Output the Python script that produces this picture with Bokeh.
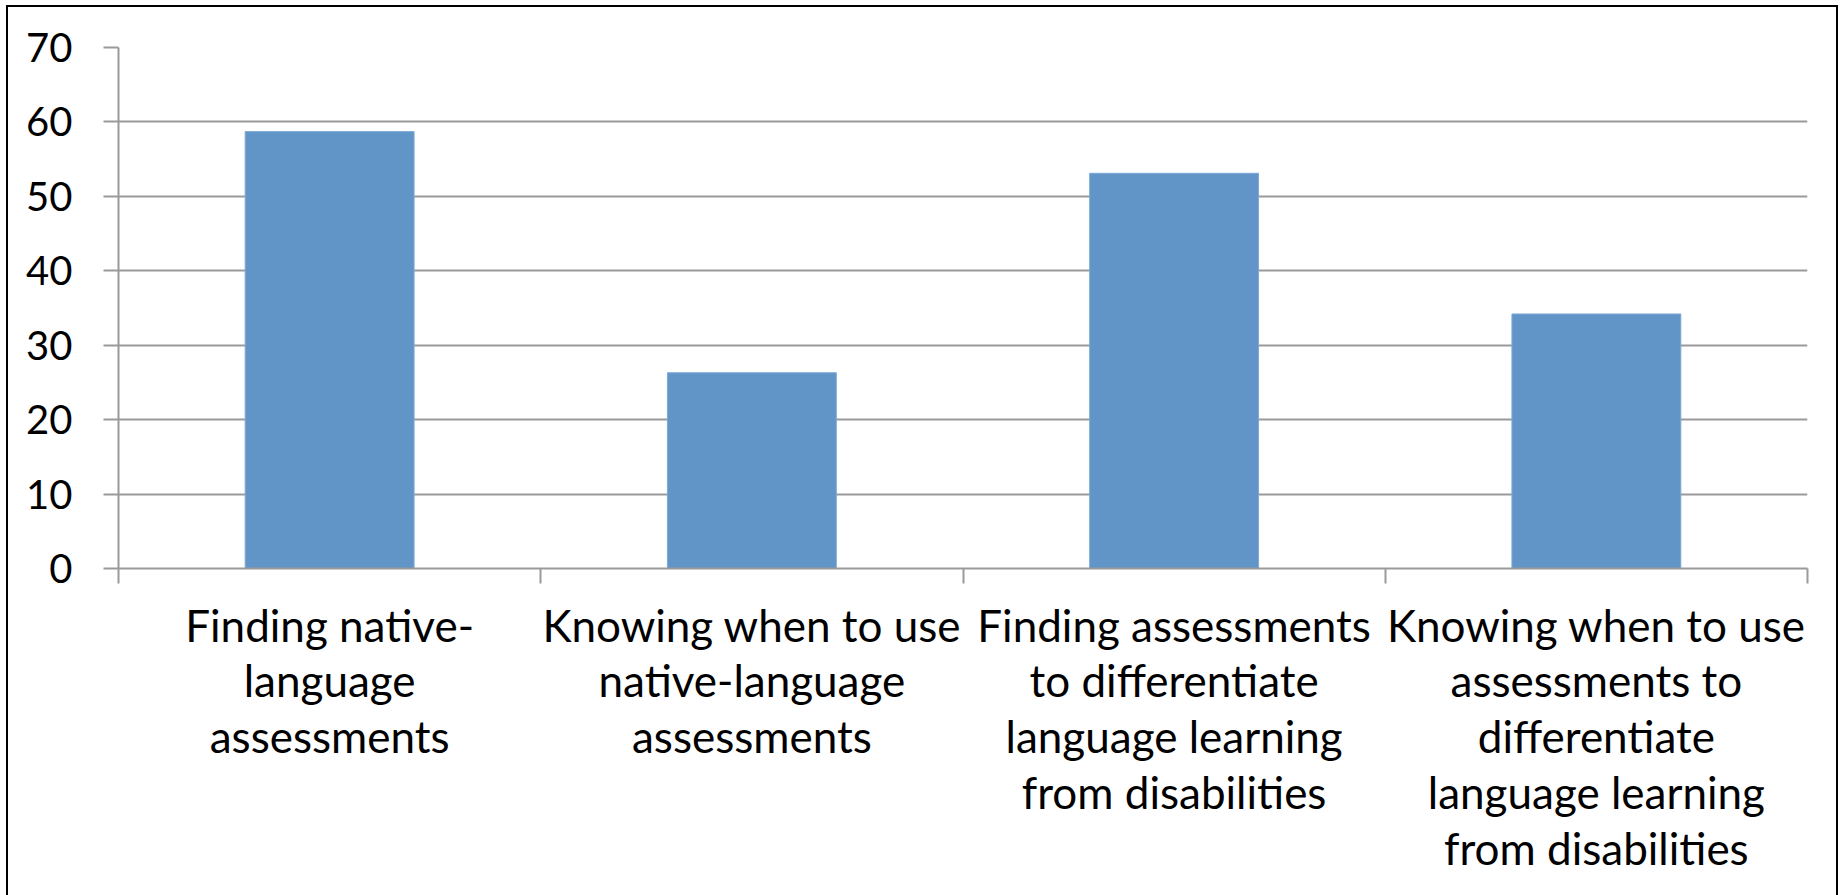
from bokeh.plotting import figure
from bokeh.models import Range1d, FixedTicker
from bokeh.embed import file_html
from bokeh.resources import INLINE

# Survey results: share of respondents per assessment challenge
categories = [
    "Finding native-\nlanguage\nassessments",
    "Knowing when to use\nnative-language\nassessments",
    "Finding assessments\nto differentiate\nlanguage learning\nfrom disabilities",
    "Knowing when to use\nassessments to\ndifferentiate\nlanguage learning\nfrom disabilities",
]
values = [58.7, 26.3, 53.1, 34.2]
y_ticks = [0, 10, 20, 30, 40, 50, 60, 70]

FONT = "Lato"
GRID = "#9a9a9a"

centers = [i + 0.5 for i in range(len(categories))]
boundaries = list(range(len(categories) + 1))

p = figure(
    width=1828, height=888,
    x_range=Range1d(0, len(categories)), y_range=Range1d(0, 70),
    output_backend="svg", toolbar_location=None,
    min_border_left=110, min_border_right=33,
    min_border_top=40, min_border_bottom=331,
)
p.margin = (5, 0, 0, 6)
p.styles = {"border": "2px solid black", "box-sizing": "content-box"}
p.outline_line_color = None
p.background_fill_color = "white"
p.border_fill_color = "white"

p.vbar(x=centers, top=values, width=0.4, bottom=0,
       fill_color="#6195C8", line_color="#7DA9D6", line_width=1)

# y axis
p.yaxis.ticker = FixedTicker(ticks=y_ticks)
p.yaxis.axis_line_color = GRID
p.yaxis.axis_line_width = 2
p.yaxis.major_tick_line_color = GRID
p.yaxis.major_tick_line_width = 2
p.yaxis.major_tick_out = 15
p.yaxis.major_tick_in = 0
p.yaxis.minor_tick_line_color = None
p.yaxis.major_label_text_font = FONT
p.yaxis.major_label_text_font_size = "40px"
p.yaxis.major_label_text_color = "black"
p.yaxis.major_label_standoff = 31

p.ygrid.ticker = FixedTicker(ticks=y_ticks)
p.ygrid.grid_line_color = GRID
p.ygrid.grid_line_width = 2
p.xgrid.grid_line_color = None

# x axis: labels centred under each bar, tick marks at category boundaries
xaxis = p.xaxis[0]
xaxis.ticker = FixedTicker(ticks=centers, minor_ticks=boundaries)
xaxis.axis_line_color = GRID
xaxis.axis_line_width = 2
xaxis.major_tick_line_color = None
xaxis.major_tick_out = 15
xaxis.major_tick_in = 0
xaxis.minor_tick_line_color = GRID
xaxis.minor_tick_line_width = 2
xaxis.minor_tick_out = 15
xaxis.minor_tick_in = 0
xaxis.major_label_overrides = {c: name for c, name in zip(centers, categories)}
xaxis.major_label_text_font = FONT
xaxis.major_label_text_font_size = "44px"
xaxis.major_label_text_color = "black"
xaxis.major_label_text_line_height = 1.075
xaxis.major_label_standoff = 15

open("out.html", "w").write(file_html(p, INLINE))
